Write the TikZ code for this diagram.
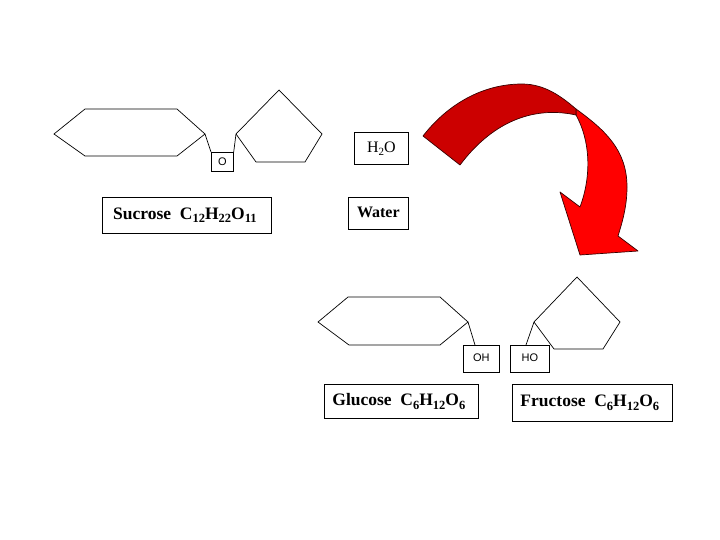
\documentclass[tikz,border=0pt]{standalone}
\usepackage{fontspec}
\setmainfont{Liberation Serif}
\newfontfamily\arialfont{Liberation Sans}
\newcommand{\sbs}[1]{\raisebox{-3.5pt}{\fontsize{12.5}{13}\selectfont #1}}
\newcommand{\sbt}[1]{\raisebox{-3pt}{\fontsize{11}{12}\selectfont #1}}
\newcommand{\shifted}[3]{\hspace*{#1}\raisebox{#2}{#3}}
\tikzset{
  ring/.style={draw=black,line width=0.7pt,line join=miter},
  link/.style={draw=black,line width=0.7pt},
  namebox/.style={draw=black,line width=0.7pt,inner sep=0pt,font=\fontsize{17.5}{20}\selectfont\bfseries},
  smallbox/.style={draw=black,line width=0.7pt,inner sep=0pt,font=\arialfont\fontsize{11}{13}\selectfont},
  waterbox/.style={draw=black,line width=0.7pt,inner sep=0pt,font=\fontsize{16}{18}\selectfont},
  arrowedge/.style={draw=black!60!red!55!black,line width=0.7pt,line join=round}
}
\begin{document}
\begin{tikzpicture}[x=1pt,y=-1pt]
\useasboundingbox (0,0) rectangle (720,540);
\fill[white] (0,0) rectangle (720,540);
% arrow, bright part
\path[arrowedge,fill=red] (576,109) .. controls (605,130) and (627,150) .. (627,187)
  .. controls (627,205) and (623,220) .. (618,236)
  -- (638,251) -- (580,255) -- (560,192) -- (580,207)
  .. controls (592,175) and (590,140) .. (576,115) -- cycle;
% arrow, dark part
\path[arrowedge,fill=red!80!black] (423,136) .. controls (447,105) and (482,84) .. (522,84)
  .. controls (545,84) and (562,97) .. (576,109)
  -- (576,115) .. controls (530,105) and (490,125) .. (460,165) -- cycle;
% sucrose
\coordinate (sa) at (205,134);
\coordinate (sb) at (236,134);
\draw[ring] (54,134) -- (85,109) -- (177,109) -- (sa) -- (177,156) -- (85,156) -- cycle;
\draw[ring] (279,90) -- (322,134) -- (305,162) -- (256,162) -- (sb) -- cycle;
\node[smallbox,minimum width=22pt,minimum height=19pt,anchor=north west] (obox) at (211,152) {\raisebox{-2pt}{O}};
\draw[link] (sa) -- (obox.north west);
\draw[link] (sb) -- (obox.north east);
\node[namebox,minimum width=169pt,minimum height=36pt,anchor=north west] (sucrose) at (102,197) {\shifted{-5pt}{2pt}{Sucrose\ \ C\sbs{12}H\sbs{22}O\sbs{11}\hspace*{-1pt}}};
% water
\node[waterbox,minimum width=54pt,minimum height=32pt,anchor=north west] (water2) at (354,132) {\raisebox{0pt}{H\sbt{2}O}};
\node[waterbox,minimum width=60pt,minimum height=32pt,anchor=north west] (waterlabel) at (348,197) {\raisebox{3pt}{\bfseries Water}};
% glucose
\coordinate (ga) at (468,322);
\draw[ring] (318,322) -- (348,297) -- (440,297) -- (ga) -- (440,345) -- (349,345) -- cycle;
\node[smallbox,minimum width=36pt,minimum height=27pt,anchor=north west] (oh) at (463,345) {\raisebox{2pt}{OH}};
\coordinate (ohtop) at (475,345);
\draw[link] (ga) -- (ohtop);
\node[namebox,minimum width=154pt,minimum height=34pt,anchor=north west] (glucose) at (324,384) {\shifted{-5pt}{1pt}{Glucose\ \ C\sbs{6}H\sbs{12}O\sbs{6}}};
% fructose
\coordinate (fa) at (534,322);
\draw[ring] (577,277) -- (620,322) -- (603,349) -- (554,349) -- (fa) -- cycle;
\node[smallbox,minimum width=39pt,minimum height=27pt,anchor=north west] (ho) at (510,345) {\raisebox{2pt}{HO}};
\coordinate (hotop) at (526,345);
\draw[link] (fa) -- (hotop);
\node[namebox,minimum width=160pt,minimum height=37pt,anchor=north west] (fructose) at (512,384) {\shifted{-5pt}{2pt}{Fructose\ \ C\sbs{6}H\sbs{12}O\sbs{6}}};
\end{tikzpicture}
\end{document}
